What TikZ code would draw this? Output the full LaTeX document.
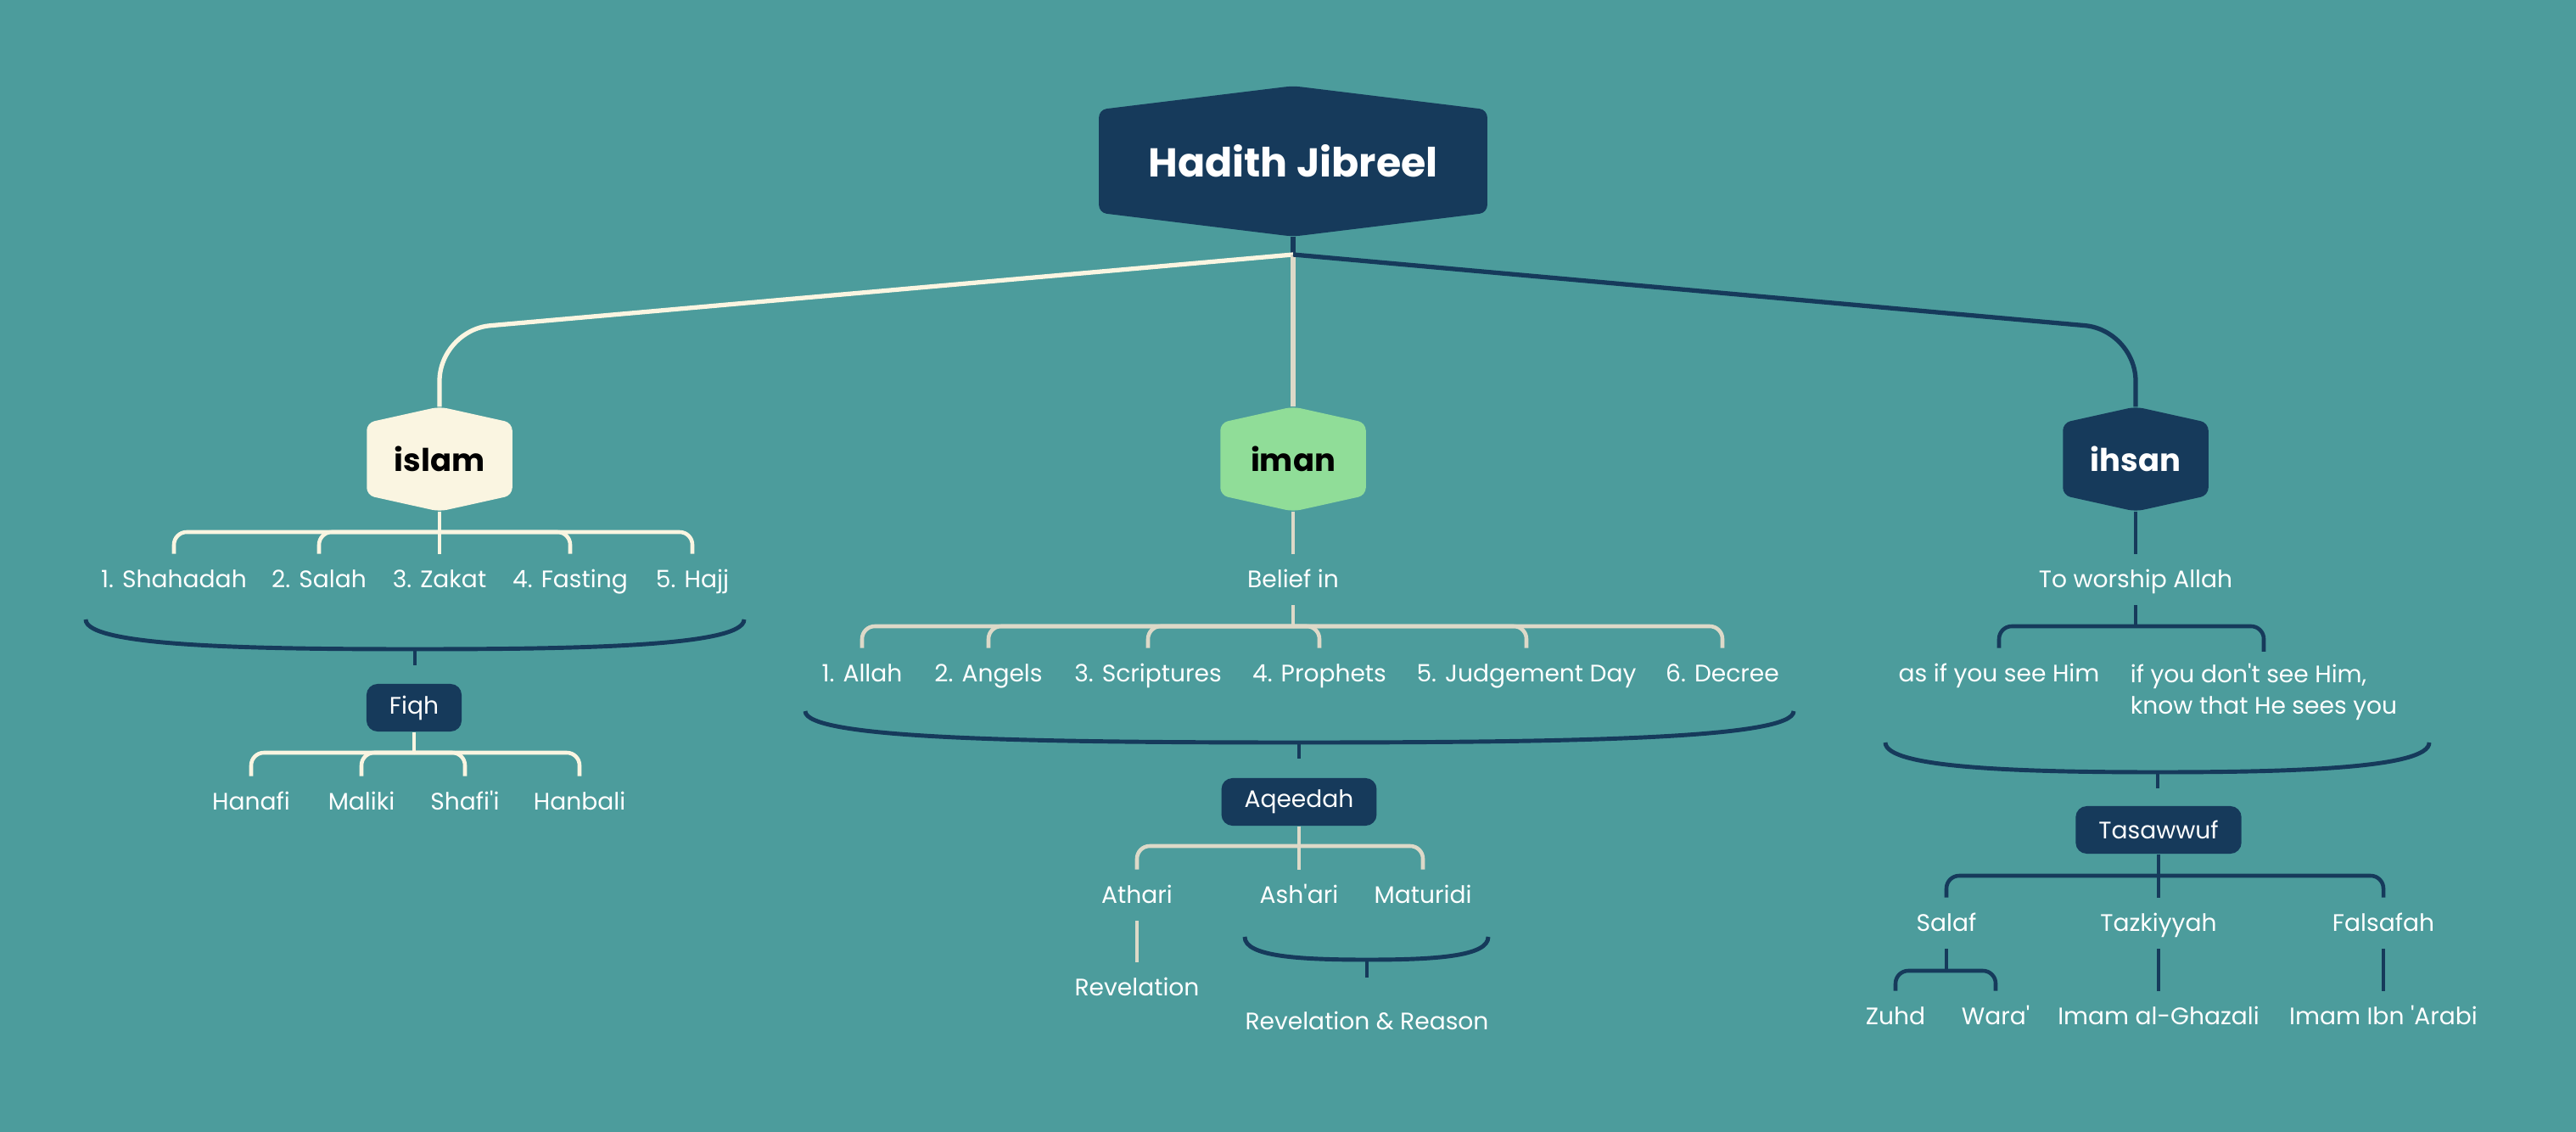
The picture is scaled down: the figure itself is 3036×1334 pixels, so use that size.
\documentclass[tikz,border=0pt]{standalone}
\usepackage{fontspec}
\setmainfont{Poppins}[Ligatures=TeXOff]

\definecolor{seabg}{HTML}{4C9C9C}
\definecolor{deepblue}{HTML}{163A5B}
\definecolor{cream}{HTML}{FAF5E1}
\definecolor{sand}{HTML}{DDD9C8}
\definecolor{mint}{HTML}{90DD98}

\pgfdeclarelayer{bg}
\pgfdeclarelayer{hex}
\pgfsetlayers{bg,hex,main}

\tikzset{
        plain/.style={text=white, font=\fontsize{8}{10.5}\selectfont, inner xsep=2pt, inner ysep=0.13cm},
        leaf/.style={plain, text height=0.75em, text depth=0.2em},
        box/.style={fill=deepblue, text=white, rounded corners=0.13cm, font=\fontsize{8}{10}\selectfont,
                minimum height=0.56cm, inner xsep=0.27cm, inner ysep=0pt},
        hexa/.style={font=\fontsize{10.5}{12}\selectfont\bfseries, minimum width=1.7cm, minimum height=1.22cm, inner sep=0pt},
        wire/.style={line width=1.3pt},
        brace/.style={line width=1.4pt, draw=deepblue},
}

% hexagon behind a node: name, colour, tip height
\newcommand\hexback[3]{%
        \begin{pgfonlayer}{hex}
                \fill[#2, rounded corners=0.09cm] (#1.north) -- ([yshift=-#3]#1.north east) -- ([yshift=#3]#1.south east)
                        -- (#1.south) -- ([yshift=#3]#1.south west) -- ([yshift=-#3]#1.north west) -- cycle;
        \end{pgfonlayer}}

\begin{document}
\begin{tikzpicture}[x=0.01cm, y=-0.01cm]

        \useasboundingbox (0,0) rectangle (3036,1334);
        \begin{pgfonlayer}{bg}
                \fill[seabg] (0,0) rectangle (3036,1334);
        \end{pgfonlayer}

        % top and the three pillars
        \node[hexa, minimum width=4.56cm, minimum height=1.76cm, font=\fontsize{13.5}{16}\selectfont\bfseries, text=white]
                (hadith) at (1524,190) {Hadith Jibreel};
        \hexback{hadith}{deepblue}{0.28cm}

        \node[hexa, text=black] (islam) at (518,541) {islam};
        \hexback{islam}{cream}{0.19cm}
        \node[hexa, text=black] (iman) at (1524,541) {iman};
        \hexback{iman}{mint}{0.19cm}
        \node[hexa, text=white] (ihsan) at (2517,541) {ihsan};
        \hexback{ihsan}{deepblue}{0.19cm}

        \coordinate (split) at (1524,300);
        \coordinate (bendline) at (1524,389);
        \draw[wire, line width=1.5pt, deepblue] (hadith.south) -- (split);
        \draw[wire, line width=1.5pt, cream, rounded corners=0.6cm] (split) -- (islam.north |- bendline) -- (islam.north);
        \draw[wire, line width=1.5pt, sand] (split) -- (iman.north);
        \draw[wire, line width=1.5pt, deepblue, rounded corners=0.6cm] (split) -- (ihsan.north |- bendline) -- (ihsan.north);

        % islam
        \foreach \name/\x/\txt in {shahadah/205/1. Shahadah, salah/376/2. Salah, zakat/518/3. Zakat,
                fasting/672/4. Fasting, hajj/816/5. Hajj}
        {
                \node[leaf] (\name) at (\x,683) {\txt};
        }
        \coordinate (islamfork) at (518,627);
        \draw[wire, cream] (islam.south) -- (zakat.north);
        \foreach \name in {shahadah, salah, fasting, hajj}
        {
                \draw[wire, cream, rounded corners=0.15cm] (islamfork) -| (\name.north);
        }
        \coordinate (islambrace) at (489,765);
        \draw[brace] (101,730) .. controls (101,762) and (300,765) .. (islambrace) .. controls (678,765) and (877,762) .. (877,730);
        \draw[brace] (islambrace) -- ++(0,19);

        \node[box] (fiqh) at (488,834) {Fiqh};
        \foreach \name/\x/\txt in {hanafi/296/Hanafi, maliki/426/Maliki, shafii/548/Shafi'i, hanbali/683/Hanbali}
        {
                \node[leaf] (\name) at (\x,945) {\txt};
        }
        \coordinate (fiqhfork) at (488,887);
        \draw[wire, cream] (fiqh.south) -- (fiqhfork);
        \foreach \name in {hanafi, maliki, shafii, hanbali}
        {
                \draw[wire, cream, rounded corners=0.15cm] (fiqhfork) -| (\name.north);
        }

        % iman
        \node[leaf] (belief) at (1524,683) {Belief in};
        \draw[wire, sand] (iman.south) -- (belief.north);
        \foreach \name/\x/\txt in {allah/1016/1. Allah, angels/1165/2. Angels, scriptures/1353/3. Scriptures,
                prophets/1555/4. Prophets, judgement/1799/5. Judgement Day, decree/2030/6. Decree}
        {
                \node[leaf] (\name) at (\x,794) {\txt};
        }
        \coordinate (imanfork) at (1524,738);
        \draw[wire, sand] (belief.south) -- (imanfork);
        \foreach \name in {allah, angels, scriptures, prophets, judgement, decree}
        {
                \draw[wire, sand, rounded corners=0.15cm] (imanfork) -| (\name.north);
        }
        \coordinate (imanbrace) at (1531,875);
        \draw[brace] (949,838) .. controls (949,870) and (1200,875) .. (imanbrace) .. controls (1862,875) and (2114,870) .. (2114,838);
        \draw[brace] (imanbrace) -- ++(0,19);

        \node[box] (aqeedah) at (1531,945) {Aqeedah};
        \foreach \name/\x/\txt in {athari/1340/Athari, ashari/1531/Ash'ari, maturidi/1677/Maturidi}
        {
                \node[leaf] (\name) at (\x,1055) {\txt};
        }
        \coordinate (aqeedahfork) at (1531,997);
        \draw[wire, sand] (aqeedah.south) -- (ashari.north);
        \foreach \name in {athari, maturidi}
        {
                \draw[wire, sand, rounded corners=0.15cm] (aqeedahfork) -| (\name.north);
        }
        \node[leaf] (revelation) at (1340,1164) {Revelation};
        \draw[wire, sand] (athari.south) -- (revelation.north);
        \coordinate (reasonbrace) at (1611,1131);
        \draw[brace] (1467,1104) .. controls (1467,1127) and (1530,1131) .. (reasonbrace) .. controls (1692,1131) and (1754,1127) .. (1754,1104);
        \draw[brace] (reasonbrace) -- ++(0,21);
        \node[leaf] (reason) at (1611,1204) {Revelation \& Reason};

        % ihsan
        \node[leaf] (worship) at (2517,683) {To worship Allah};
        \draw[wire, deepblue] (ihsan.south) -- (worship.north);
        \coordinate (ihsanfork) at (2517,738);
        \draw[wire, deepblue] (worship.south) -- (ihsanfork);
        \node[leaf] (seehim) at (2356,794) {as if you see Him};
        \node[plain, align=left, anchor=north] (heseesyou) at (2668,768) {if you don't see Him,\\know that He sees you};
        \foreach \name in {seehim, heseesyou}
        {
                \draw[wire, deepblue, rounded corners=0.15cm] (ihsanfork) -| (\name.north);
        }
        \coordinate (ihsanbrace) at (2543,910);
        \draw[brace] (2222,875) .. controls (2222,905) and (2380,910) .. (ihsanbrace) .. controls (2706,910) and (2863,905) .. (2863,875);
        \draw[brace] (ihsanbrace) -- ++(0,19);

        \node[box] (tasawwuf) at (2544,978) {Tasawwuf};
        \foreach \name/\x/\txt in {salaf/2294/Salaf, tazkiyyah/2544/Tazkiyyah, falsafah/2809/Falsafah}
        {
                \node[leaf] (\name) at (\x,1088) {\txt};
        }
        \coordinate (tasawwuffork) at (2544,1032);
        \draw[wire, deepblue] (tasawwuf.south) -- (tazkiyyah.north);
        \foreach \name in {salaf, falsafah}
        {
                \draw[wire, deepblue, rounded corners=0.15cm] (tasawwuffork) -| (\name.north);
        }
        \node[leaf] (zuhd) at (2234,1198) {Zuhd};
        \node[leaf] (wara) at (2352,1198) {Wara'};
        \node[leaf] (ghazali) at (2544,1198) {Imam al-Ghazali};
        \node[leaf] (arabi) at (2809,1198) {Imam Ibn 'Arabi};
        \coordinate (salaffork) at (2294,1144);
        \draw[wire, deepblue] (salaf.south) -- (salaffork);
        \foreach \name in {zuhd, wara}
        {
                \draw[wire, deepblue, rounded corners=0.15cm] (salaffork) -| (\name.north);
        }
        \draw[wire, deepblue] (tazkiyyah.south) -- (ghazali.north);
        \draw[wire, deepblue] (falsafah.south) -- (arabi.north);

\end{tikzpicture}
\end{document}
